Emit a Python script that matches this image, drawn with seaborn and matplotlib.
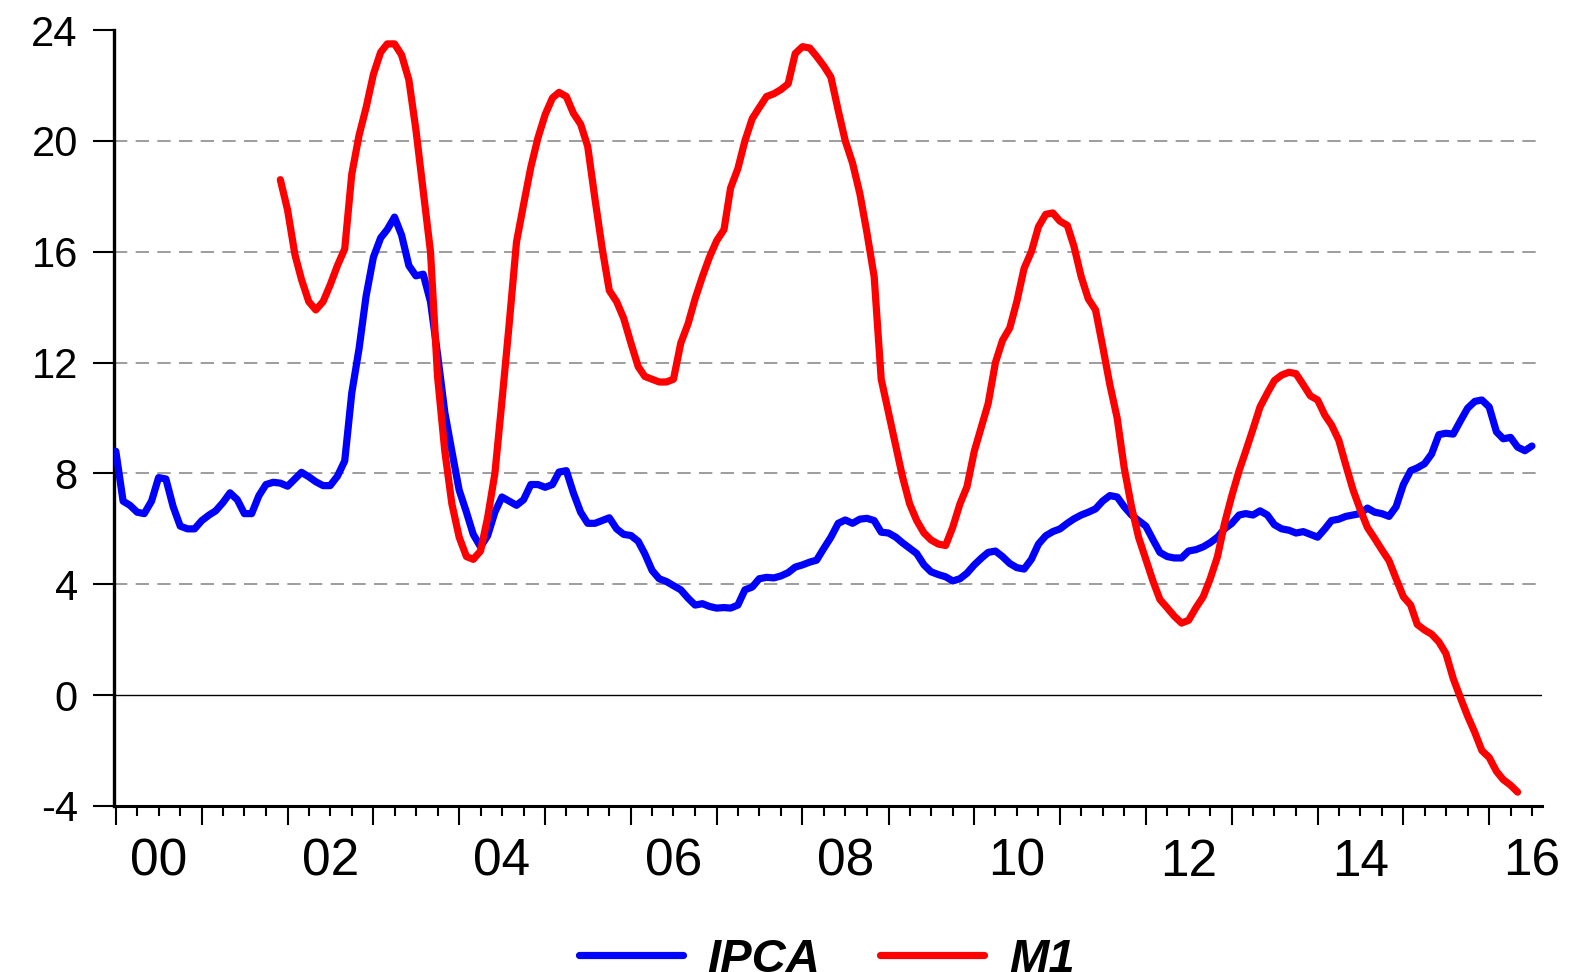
import pandas as pd
import matplotlib
matplotlib.use('Agg')
import matplotlib.pyplot as plt
import matplotlib.dates as mdates
import matplotlib.transforms as mtransforms
import seaborn as sns

sns.set_style('ticks', {'axes.edgecolor': 'black', 'xtick.color': 'black',
                        'ytick.color': 'black', 'text.color': 'black'})
plt.rcParams['font.family'] = ['Liberation Sans', 'DejaVu Sans']
plt.rcParams['axes.unicode_minus'] = False

# monthly values, 12-month % change
ipca_start = '2000-01-01'
ipca = [
    8.8, 7.0, 6.85, 6.6, 6.55, 7.0, 7.85, 7.8, 6.8, 6.1, 6.0, 6.0,        # 2000
    6.3, 6.5, 6.65, 6.95, 7.3, 7.05, 6.55, 6.55, 7.2, 7.6, 7.68, 7.65,    # 2001
    7.54, 7.8, 8.04, 7.88, 7.7, 7.56, 7.56, 7.9, 8.45, 10.9, 12.5, 14.4,  # 2002
    15.8, 16.5, 16.8, 17.25, 16.6, 15.5, 15.13, 15.19, 14.2, 12.3, 10.2, 8.8,  # 2003
    7.4, 6.6, 5.8, 5.35, 5.75, 6.6, 7.15, 7.0, 6.85, 7.05, 7.6, 7.6,      # 2004
    7.5, 7.6, 8.05, 8.1, 7.3, 6.6, 6.2, 6.2, 6.3, 6.4, 6.0, 5.8,          # 2005
    5.76, 5.55, 5.1, 4.5, 4.2, 4.1, 3.95, 3.8, 3.5, 3.25, 3.3, 3.2,       # 2006
    3.14, 3.16, 3.14, 3.25, 3.8, 3.9, 4.2, 4.25, 4.23, 4.3, 4.42, 4.62,   # 2007
    4.7, 4.8, 4.87, 5.3, 5.7, 6.2, 6.32, 6.2, 6.35, 6.38, 6.3, 5.88,      # 2008
    5.85, 5.7, 5.5, 5.3, 5.11, 4.7, 4.45, 4.35, 4.27, 4.12, 4.2, 4.4,     # 2009
    4.7, 4.95, 5.15, 5.2, 5.0, 4.75, 4.6, 4.55, 4.9, 5.45, 5.75, 5.9,     # 2010
    6.0, 6.2, 6.36, 6.5, 6.6, 6.72, 7.0, 7.2, 7.15, 6.8, 6.5, 6.3,        # 2011
    6.1, 5.6, 5.15, 5.0, 4.95, 4.95, 5.2, 5.25, 5.35, 5.5, 5.7, 6.0,      # 2012
    6.2, 6.5, 6.55, 6.5, 6.65, 6.5, 6.15, 6.0, 5.95, 5.85, 5.9, 5.8,      # 2013
    5.7, 6.0, 6.3, 6.35, 6.45, 6.5, 6.55, 6.75, 6.6, 6.55, 6.45, 6.8,     # 2014
    7.6, 8.1, 8.2, 8.35, 8.7, 9.4, 9.45, 9.42, 9.9, 10.35, 10.6, 10.65,   # 2015
    10.4, 9.5, 9.25, 9.3, 8.95, 8.82, 8.99,                              # 2016
]

m1_start = '2001-12-01'
m1 = [
    18.6,                                                                 # 2001
    17.5, 15.9, 15.0, 14.2, 13.9, 14.2, 14.8, 15.5, 16.1, 18.8, 20.2, 21.2,   # 2002
    22.4, 23.2, 23.5, 23.5, 23.1, 22.2, 20.4, 18.2, 16.0, 11.5, 8.8, 6.9,    # 2003
    5.7, 5.0, 4.9, 5.2, 6.4, 8.0, 10.6, 13.4, 16.35, 17.7, 19.05, 20.1,      # 2004
    20.95, 21.55, 21.75, 21.6, 21.0, 20.6, 19.8, 17.9, 16.1, 14.6, 14.2, 13.6,  # 2005
    12.7, 11.85, 11.5, 11.4, 11.3, 11.3, 11.4, 12.7, 13.4, 14.3, 15.1, 15.8,  # 2006
    16.4, 16.8, 18.3, 19.0, 20.0, 20.8, 21.2, 21.6, 21.7, 21.85, 22.06, 23.15,  # 2007
    23.4, 23.35, 23.05, 22.7, 22.3, 21.1, 20.0, 19.2, 18.1, 16.7, 15.1, 11.4,  # 2008
    10.2, 9.0, 7.9, 6.9, 6.3, 5.85, 5.6, 5.45, 5.4, 6.05, 6.9, 7.52,         # 2009
    8.8, 9.7, 10.52, 12.0, 12.8, 13.25, 14.2, 15.4, 16.0, 16.9, 17.35, 17.4,  # 2010
    17.1, 16.95, 16.2, 15.1, 14.3, 13.9, 12.6, 11.2, 10.0, 8.2, 6.8, 5.7,     # 2011
    4.9, 4.1, 3.45, 3.15, 2.85, 2.6, 2.7, 3.15, 3.55, 4.2, 5.0, 6.2,         # 2012
    7.2, 8.1, 8.8, 9.6, 10.4, 10.9, 11.35, 11.55, 11.65, 11.6, 11.2, 10.8,    # 2013
    10.65, 10.1, 9.75, 9.2, 8.3, 7.4, 6.7, 6.05, 5.65, 5.25, 4.85, 4.2,       # 2014
    3.55, 3.25, 2.55, 2.35, 2.2, 1.92, 1.5, 0.6, -0.1, -0.75, -1.35, -2.0,    # 2015
    -2.25, -2.75, -3.05, -3.25, -3.5,                                        # 2016
]

series_names = ['IPCA', 'M1']
series_colors = {'IPCA': '#0000ff', 'M1': '#ff0000'}
y_ticks = [-4, 0, 4, 8, 12, 16, 20, 24]
grid_levels = [4, 8, 12, 16, 20]
label_years = [2000, 2002, 2004, 2006, 2008, 2010, 2012, 2014, 2016]
year_labels = ['00', '02', '04', '06', '08', '10', '12', '14', '16']

df = pd.concat([
    pd.DataFrame({'date': pd.date_range(ipca_start, periods=len(ipca), freq='MS'),
                  'value': ipca, 'series': 'IPCA'}),
    pd.DataFrame({'date': pd.date_range(m1_start, periods=len(m1), freq='MS'),
                  'value': m1, 'series': 'M1'}),
], ignore_index=True)

fig = plt.figure(figsize=(15.76, 9.72), dpi=100)
ax = fig.add_axes([0.0723, 0.1708, 0.906, 0.7983])

for lvl in grid_levels:
    ax.axhline(lvl, color='#8c8c8c', lw=1.2, ls=(0, (8, 5)), zorder=1)
ax.axhline(0, color='black', lw=1.0, zorder=1)

sns.lineplot(data=df, x='date', y='value', hue='series', hue_order=series_names,
             palette=series_colors, linewidth=5.2, errorbar=None, ax=ax, zorder=3)

ax.set_ylim(-4, 24)
ax.set_xlim(pd.Timestamp('1999-12-24'), pd.Timestamp('2016-08-12'))
ax.set_xlabel('')
ax.set_ylabel('')

for s in ['top', 'right']:
    ax.spines[s].set_visible(False)
ax.spines['left'].set_linewidth(2.4)
ax.spines['bottom'].set_linewidth(2.2)

ax.set_yticks(y_ticks)
ax.tick_params(axis='y', length=15, width=1.5, pad=11, labelsize=30, direction='out')
ax.xaxis.set_major_locator(mdates.YearLocator())
ax.xaxis.set_minor_locator(mdates.MonthLocator(bymonth=[4, 7, 10]))
ax.xaxis.set_major_formatter(plt.NullFormatter())
ax.xaxis.set_minor_formatter(plt.NullFormatter())
ax.tick_params(axis='x', which='major', length=14, width=1.5, direction='out')
ax.tick_params(axis='x', which='minor', length=7, width=1.5, direction='out')

trans = mtransforms.blended_transform_factory(ax.transData, ax.transAxes)
for yr, lab in zip(label_years, year_labels):
    ax.text(mdates.date2num(pd.Timestamp(yr, 7, 1)), -0.041, lab, transform=trans,
            ha='center', va='top', fontsize=37, color='black')

sns.move_legend(ax, 'center', bbox_to_anchor=(0.4993, -0.1985), ncol=2, frameon=False,
                title=None, prop={'weight': 'bold', 'style': 'italic', 'size': 34},
                handlelength=2.2, handletextpad=0.53, columnspacing=1.27)
for line in ax.get_legend().get_lines():
    line.set_linewidth(5.2)

fig.savefig('out.png', dpi=100)
